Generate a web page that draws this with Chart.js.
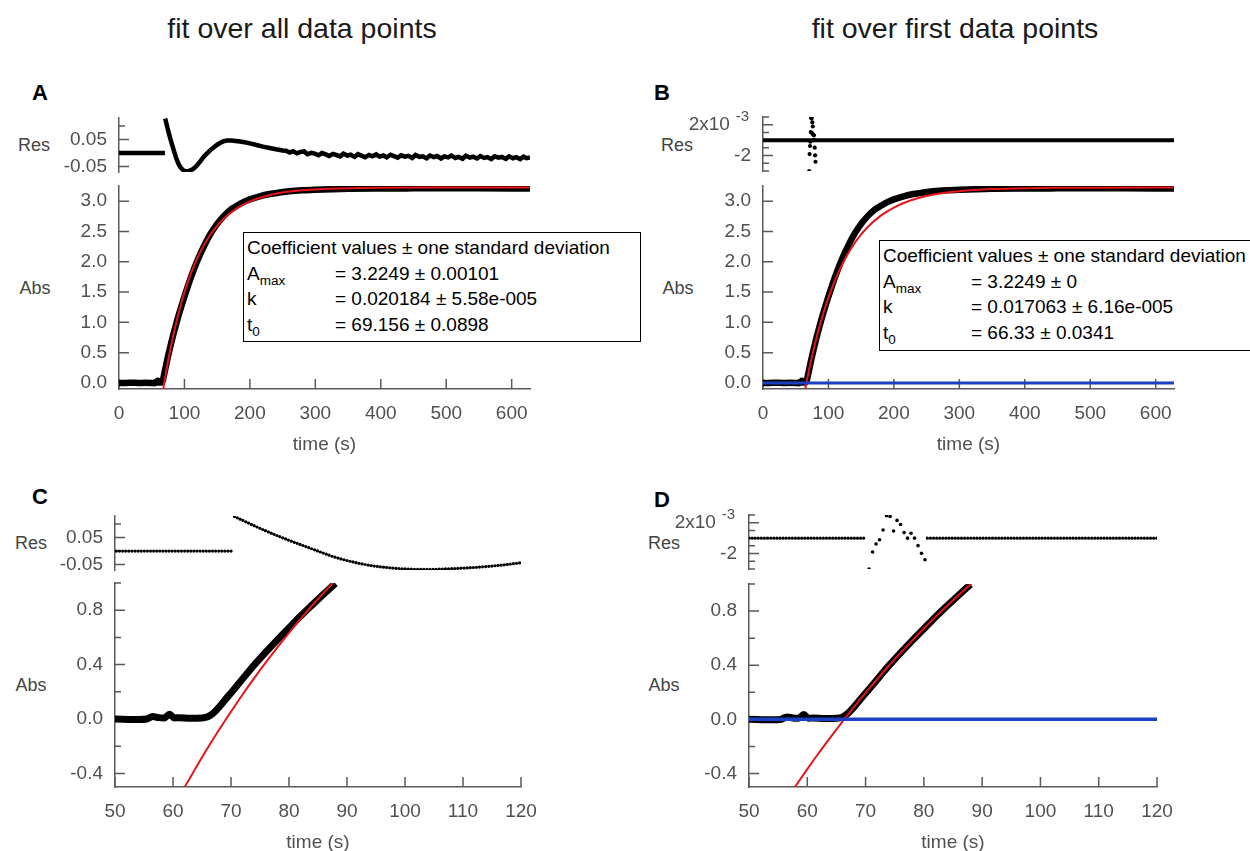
<!DOCTYPE html>
<html>
<head>
<meta charset="utf-8">
<script src="https://cdn.jsdelivr.net/npm/chart.js@4.4.0/dist/chart.umd.min.js"></script>
<style>
  body { margin: 0; width: 1250px; height: 851px; background: #fff; position: relative; overflow: hidden;
         font-family: "Liberation Sans", Arial, sans-serif; }
  canvas { position: absolute; }
  .txt { position: absolute; transform: translate(-50%, -50%); white-space: nowrap; }
  .title { font-size: 28.5px; color: #1a1a1a; }
  .letter { font-size: 22px; font-weight: bold; color: #000; }
  .axlab { font-size: 18px; color: #444; }
  .coef { position: absolute; border: 1px solid #000; background: #fff; font-size: 19px; color: #000;
          line-height: 25.5px; padding: 2px 3px; box-sizing: border-box; white-space: nowrap; }
  .coef .row { position: relative; height: 25.5px; }
  .coef .val { position: absolute; left: 88px; top: 0; }
  .coef sub { font-size: 13.5px; vertical-align: -5px; line-height: 0; }
</style>
</head>
<body>

<div class="txt title" style="left:302px; top:28px;">fit over all data points</div>
<div class="txt title" style="left:955px; top:28px;">fit over first data points</div>

<div class="txt letter" style="left:40px; top:93px;">A</div>
<div class="txt letter" style="left:662px; top:93px;">B</div>
<div class="txt letter" style="left:40px; top:497px;">C</div>
<div class="txt letter" style="left:662px; top:500px;">D</div>

<div class="txt axlab" style="left:34px; top:145px;">Res</div>
<div class="txt axlab" style="left:35px; top:288px;">Abs</div>
<div class="txt axlab" style="left:677px; top:145px;">Res</div>
<div class="txt axlab" style="left:678px; top:288px;">Abs</div>
<div class="txt axlab" style="left:31px; top:543px;">Res</div>
<div class="txt axlab" style="left:31px; top:685px;">Abs</div>
<div class="txt axlab" style="left:664px; top:543px;">Res</div>
<div class="txt axlab" style="left:664px; top:685px;">Abs</div>

<script>
// ---- axes ----
const timeTicksAB = [0, 100, 200, 300, 400, 500, 600];
const timeLabelsAB = ['0', '100', '200', '300', '400', '500', '600'];
const timeTicksCD = [50, 60, 70, 80, 90, 100, 110, 120];
const timeLabelsCD = ['50', '60', '70', '80', '90', '100', '110', '120'];
const absTicksAB = [0, 0.5, 1, 1.5, 2, 2.5, 3];
const absLabelsAB = ['0.0', '0.5', '1.0', '1.5', '2.0', '2.5', '3.0'];
const absTicksCD = [-0.4, -0.2, 0, 0.2, 0.4, 0.6, 0.8, 1.0];
const absLabelsCD = ['-0.4', '', '0.0', '', '0.4', '', '0.8', ''];
const resTicksAll = [-0.05, 0, 0.05, 0.1];
const resLabelsAll = ['-0.05', '', '0.05', ''];
const resTicksFirst = [-4, -3, -2, -1, 0, 1, 2, 3];          // units of 1e-3
const resLabelsFirst = ['', '', '-2', '', '', '', '2x10    ', ''];
const resExpTick = 2;          // tick that carries the exponent
const resExpText = '-3';

// ---- measured absorbance (black) ----
const measT = [0, 10, 20, 30, 40, 50, 54, 55.5, 56.5, 57.5, 58.5, 59.4, 60.2, 61, 63, 65, 66, 67, 68, 69,
  70, 72, 74, 76, 78, 80, 82, 84, 86, 88, 90, 95, 100, 110, 120, 130, 140, 150, 160, 170, 180, 190,
  200, 215, 230, 245, 260, 280, 300, 325, 350, 400, 450, 500, 550, 600, 628];
const measAbs = [0, 0, 0.003, 0, 0.002, 0, -0.004, 0, 0.018, 0.01, 0.008, 0.035, 0.008, 0.01, 0.006, 0.008, 0.016, 0.045, 0.09, 0.142,
  0.192, 0.295, 0.397, 0.491, 0.582, 0.669, 0.757, 0.839, 0.919, 0.997, 1.075, 1.255, 1.425, 1.745, 2.025, 2.26, 2.463, 2.625, 2.753, 2.855, 2.923, 2.985,
  3.03, 3.08, 3.117, 3.142, 3.162, 3.178, 3.188, 3.197, 3.204, 3.209, 3.211, 3.212, 3.211, 3.21, 3.209];

// ---- fit over all points (red, A and C) ----
const fitAllT = [61.8, 62, 64, 66, 68, 69.156, 70, 72, 74, 76, 78, 80, 82, 84, 86, 88, 90, 95, 100, 110, 120,
  130, 140, 150, 160, 180, 200, 225, 250, 275, 300, 350, 400, 500, 628];
const fitAllAbs = [-0.516, -0.501, -0.354, -0.212, -0.076, 0, 0.054, 0.18, 0.3, 0.416, 0.527, 0.634, 0.736, 0.835, 0.929, 1.02, 1.107, 1.311, 1.494, 1.811, 2.069,
  2.28, 2.453, 2.594, 2.71, 2.881, 2.995, 3.086, 3.141, 3.174, 3.194, 3.214, 3.221, 3.2245, 3.2249];

// ---- fit over first points (red, B and D) ----
const fitFirstT = [57.8, 60, 62, 64, 66, 66.33, 68, 70, 72, 74, 76, 78, 80, 82, 84, 86, 88, 90, 95, 100, 110, 120,
  130, 140, 150, 160, 180, 200, 225, 250, 275, 300, 350, 400, 450, 500, 628];
const fitFirstAbs = [-0.505, -0.368, -0.247, -0.131, -0.018, 0, 0.091, 0.196, 0.297, 0.396, 0.49, 0.582, 0.671, 0.757, 0.839, 0.919, 0.997, 1.072, 1.248, 1.409, 1.694, 1.934,
  2.137, 2.307, 2.451, 2.573, 2.761, 2.895, 3.01, 3.085, 3.133, 3.165, 3.199, 3.214, 3.22, 3.223, 3.2248];

// ---- zero baseline (blue) ----
const baseT = [0, 628];
const baseAbs = [0, 0];

// ---- residuals, fit over all points ----
const resAllT = [0, 50, 70.2, 70.35, 70.6, 72, 74, 76, 78, 80, 82, 85, 88, 91, 94, 97, 100, 104, 107, 110, 113, 117, 120,
  125, 130, 135, 140, 145, 150, 155, 160, 166, 172, 178, 185, 192, 200, 210, 220, 230, 240, 250,
  255, 261, 266, 272, 277, 283, 288, 294, 299, 305, 310, 316, 321, 327, 332, 338, 343, 349, 354, 360,
  365, 371, 376, 382, 387, 393, 398, 404, 409, 415, 420, 426, 431, 437, 442, 448, 453, 459, 464, 470,
  475, 481, 486, 492, 497, 503, 508, 514, 519, 525, 530, 536, 541, 547, 552, 558, 563, 569, 574, 580,
  585, 591, 596, 602, 607, 613, 618, 623, 628];
const resAllV = [0, 0, 0, null, 0.128, 0.114, 0.094, 0.075, 0.057, 0.04, 0.024, 0, -0.023, -0.04, -0.053, -0.061, -0.066, -0.068, -0.066, -0.063, -0.059, -0.051, -0.043,
  -0.028, -0.012, 0, 0.012, 0.022, 0.031, 0.038, 0.044, 0.047, 0.047, 0.045, 0.043, 0.04, 0.036, 0.03, 0.024, 0.019, 0.014, 0.01,
  0.009, 0.002, 0.007, -0.001, 0.004, 0.006, -0.004, 0.001, -0.002, -0.008, 0, -0.005, -0.011, -0.003, -0.007, -0.012, -0.002, -0.009, -0.006, -0.014,
  -0.004, -0.01, -0.015, -0.007, -0.012, -0.005, -0.013, -0.009, -0.016, -0.006, -0.011, -0.017, -0.008, -0.013, -0.01, -0.018, -0.007, -0.014, -0.012, -0.019,
  -0.009, -0.015, -0.011, -0.02, -0.012, -0.016, -0.009, -0.018, -0.014, -0.021, -0.01, -0.017, -0.013, -0.02, -0.011, -0.018, -0.015, -0.022, -0.012, -0.017,
  -0.014, -0.021, -0.012, -0.019, -0.015, -0.022, -0.013, -0.019, -0.016];

// ---- residuals, fit over first points (units of 1e-3) ----
const resFirstT = [0, 50, 70.2, 70.4, 80.6, 120, 628];
const resFirstV = [0, 0, 0, null, 0, 0, 0];
const resDotT = [70.6, 71.2, 71.8, 72.4, 73.0, 73.6, 74.2, 74.8, 75.4, 76.0, 76.6, 77.2, 77.8, 78.4, 79.0, 79.6, 80.2];
const resDotV = [-4.0, -1.8, -0.76, -0.2, 1.05, 2.9, 2.8, 0.92, 2.3, 1.77, 0.72, 0, 0.63, 0, -0.97, -1.97, -2.8];

// ---- styling ----
const FONT = '"Liberation Sans", Arial, sans-serif';
const AXIS = '#5a5a5a';
const LABEL = '#505050';
const RED = '#e8141c';
const BLUE = '#1c3fc4';
const TICKSIZE = 19;
const YW = 80, XH = 67, PT = 20, PR = 28, PB = 20;

function pts(ts, vs) {
  return ts.map((t, i) => ({ x: t, y: vs[i] }));
}

function inwardTicks(p) {
  return {
    id: 'inwardTicks',
    beforeDatasetsDraw(chart) {
      const ctx = chart.ctx;
      const area = chart.chartArea;
      const xs = chart.scales.x, ys = chart.scales.y;
      ctx.save();
      ctx.strokeStyle = AXIS;
      ctx.lineWidth = 1.5;
      ctx.beginPath();
      p.y.ticks.forEach((v, i) => {
        const py = ys.getPixelForValue(v);
        ctx.moveTo(area.left, py);
        ctx.lineTo(area.left + (p.y.labels[i].trim() ? 10 : 6), py);
      });
      if (p.showX) {
        p.x.ticks.forEach((v, i) => {
          const px = xs.getPixelForValue(v);
          ctx.moveTo(px, area.bottom);
          ctx.lineTo(px, area.bottom - (p.x.labels[i] ? 10 : 6));
        });
      }
      ctx.stroke();
      // exponent of the residual axis label
      if (p.y.exp) {
        ctx.fillStyle = LABEL;
        ctx.font = '15px ' + FONT;
        ctx.textAlign = 'right';
        ctx.textBaseline = 'middle';
        ctx.fillText(p.y.exp.text, area.left - 14, ys.getPixelForValue(p.y.exp.at) - 8);
      }
      ctx.restore();
    }
  };
}

function makePlot(p) {
  const c = document.createElement('canvas');
  const xh = p.showX ? XH : PB;
  c.width = p.right - p.left + YW + PR;
  c.height = p.bottom - p.top + PT + xh;
  c.style.left = (p.left - YW) + 'px';
  c.style.top = (p.top - PT) + 'px';
  document.body.appendChild(c);

  new Chart(c, {
    type: 'scatter',
    data: { datasets: p.datasets },
    options: {
      responsive: false,
      animation: false,
      devicePixelRatio: 1,
      layout: { padding: { top: PT, right: PR, bottom: p.showX ? 0 : PB, left: 0 } },
      plugins: { legend: { display: false }, tooltip: { enabled: false } },
      scales: {
        x: {
          type: 'linear', min: p.x.min, max: p.x.max, display: p.showX,
          grid: { display: false },
          border: { display: true, color: AXIS, width: 1.5 },
          ticks: {
            color: LABEL, font: { size: TICKSIZE, family: FONT }, padding: 5,
            autoSkip: false, maxRotation: 0,
            callback: (v, i) => p.x.labels[i]
          },
          title: { display: true, text: 'time (s)', color: LABEL, font: { size: TICKSIZE, family: FONT }, padding: 0 },
          afterBuildTicks: s => { s.ticks = p.x.ticks.map(v => ({ value: v })); },
          afterFit: s => { if (p.showX) s.height = XH; }
        },
        y: {
          type: 'linear', min: p.y.min, max: p.y.max,
          grid: { display: false },
          border: { display: true, color: AXIS, width: 1.5 },
          ticks: {
            color: LABEL, font: { size: TICKSIZE, family: FONT }, padding: 4,
            autoSkip: false,
            callback: (v, i) => p.y.labels[i]
          },
          afterBuildTicks: s => { s.ticks = p.y.ticks.map(v => ({ value: v })); },
          afterFit: s => { s.width = YW; }
        }
      }
    },
    plugins: [inwardTicks(p)]
  });
}

function line(data, color, width, order, extra) {
  return Object.assign({
    data, showLine: true, borderColor: color, backgroundColor: color, borderWidth: width,
    pointRadius: 0, cubicInterpolationMode: 'monotone', order
  }, extra || {});
}
function beads(data, order) {
  return line(data, '#000', 3.2, order, { borderDash: [0, 3.1], borderCapStyle: 'round', spanGaps: false });
}
function dots(data, r, order) {
  return { data, showLine: false, pointRadius: r, pointBorderWidth: 0, backgroundColor: '#000', borderColor: '#000', order };
}

const xAB = { min: 0, max: 628, ticks: timeTicksAB, labels: timeLabelsAB };
const xCD = { min: 50, max: 120, ticks: timeTicksCD, labels: timeLabelsCD };
const yAbsAB = { min: -0.1, max: 3.25, ticks: absTicksAB, labels: absLabelsAB };
const yAbsCD = { min: -0.5, max: 1.0, ticks: absTicksCD, labels: absLabelsCD };
const yResAll = { min: -0.07, max: 0.13, ticks: resTicksAll, labels: resLabelsAll };
const yResFirst = { min: -4, max: 3, ticks: resTicksFirst, labels: resLabelsFirst,
  exp: { at: resExpTick, text: resExpText } };

const meas = pts(measT, measAbs);
const measZoom = meas.filter(d => d.x >= 50 && d.x <= 88);

// A
makePlot({ left: 119, right: 530, top: 118, bottom: 172, showX: false, x: xAB, y: yResAll,
  datasets: [line(pts(resAllT, resAllV), '#000', 4.5, 1, { spanGaps: false, cubicInterpolationMode: 'default', tension: 0 })] });
makePlot({ left: 119, right: 530, top: 186, bottom: 389, showX: true, x: xAB, y: yAbsAB,
  datasets: [line(pts(fitAllT, fitAllAbs), RED, 2, 1), line(meas, '#000', 6.5, 2)] });

// B
makePlot({ left: 763, right: 1174, top: 117, bottom: 171, showX: false, x: xAB, y: yResFirst,
  datasets: [dots(pts(resDotT, resDotV), 2.1, 1), line(pts(resFirstT, resFirstV), '#000', 4, 2, { spanGaps: true })] });
makePlot({ left: 763, right: 1174, top: 186, bottom: 389, showX: true, x: xAB, y: yAbsAB,
  datasets: [line(pts(baseT, baseAbs), BLUE, 3, 0), line(pts(fitFirstT, fitFirstAbs), RED, 2, 1), line(meas, '#000', 6.5, 2)] });

// C
makePlot({ left: 115, right: 521, top: 516, bottom: 570, showX: false, x: xCD, y: yResAll,
  datasets: [beads(pts(resAllT, resAllV), 1)] });
makePlot({ left: 115, right: 521, top: 583, bottom: 787, showX: true, x: xCD, y: yAbsCD,
  datasets: [line(pts(fitAllT, fitAllAbs), RED, 2, 1), line(measZoom, '#000', 7, 2)] });

// D
makePlot({ left: 749, right: 1157, top: 515, bottom: 569, showX: false, x: xCD, y: yResFirst,
  datasets: [dots(pts(resDotT, resDotV), 1.8, 1), beads(pts(resFirstT, resFirstV), 2)] });
makePlot({ left: 749, right: 1157, top: 584, bottom: 787, showX: true, x: xCD, y: yAbsCD,
  datasets: [line(pts(baseT, baseAbs), BLUE, 3.5, 0), line(pts(fitFirstT, fitFirstAbs), RED, 2, 1), line(measZoom, '#000', 7, 2)] });
</script>

<div class="coef" style="left:243px; top:232px; width:398px; height:110px;">
  <div class="row">Coefficient values ± one standard deviation</div>
  <div class="row">A<sub>max</sub><span class="val">= 3.2249 ± 0.00101</span></div>
  <div class="row">k<span class="val">= 0.020184 ± 5.58e-005</span></div>
  <div class="row">t<sub>0</sub><span class="val">= 69.156 ± 0.0898</span></div>
</div>
<div class="coef" style="left:879px; top:240px; width:398px; height:111px;">
  <div class="row">Coefficient values ± one standard deviation</div>
  <div class="row">A<sub>max</sub><span class="val">= 3.2249 ± 0</span></div>
  <div class="row">k<span class="val">= 0.017063 ± 6.16e-005</span></div>
  <div class="row">t<sub>0</sub><span class="val">= 66.33 ± 0.0341</span></div>
</div>

</body>
</html>
